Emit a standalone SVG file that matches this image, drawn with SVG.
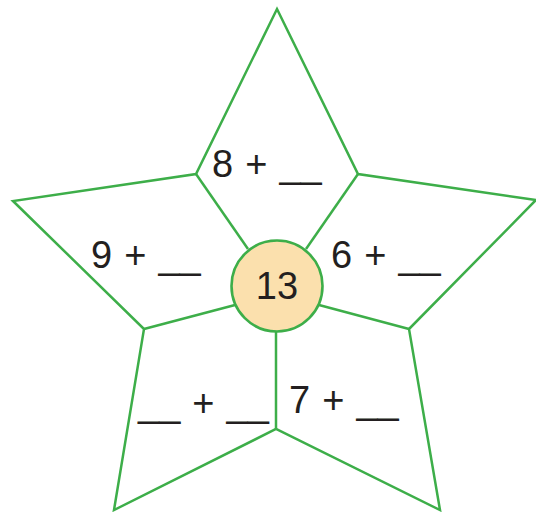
<svg xmlns="http://www.w3.org/2000/svg" width="536" height="512" viewBox="0 0 536 512">
  <style>
    .edge { fill: none; stroke: #3dae49; stroke-width: 2.5; stroke-linejoin: miter; }
    .lbl { font-family: "Liberation Sans", Arial, sans-serif; font-size: 38px; fill: #231f20; word-spacing: 1.5px; }
    .hub { fill: #fbe0ad; stroke: #3dae49; stroke-width: 2.6; }
  </style>
  <rect width="536" height="512" fill="#ffffff"/>
  <g id="star">
    <polygon class="edge" points="277,9 358,174 536,200 409,329 440,510 276,429 114,510 144,329 13,201 196,174"/>
  </g>
  <g id="connectors">
    <line class="edge" x1="196" y1="174" x2="248" y2="249"/>
    <line class="edge" x1="358" y1="174" x2="306" y2="249"/>
    <line class="edge" x1="409" y1="329" x2="319" y2="305"/>
    <line class="edge" x1="144" y1="329" x2="235" y2="305"/>
    <line class="edge" x1="276" y1="429" x2="276" y2="331"/>
  </g>
  <g id="center">
    <circle class="hub" cx="277" cy="286" r="45.5"/>
    <text class="lbl" x="277" y="299" text-anchor="middle">13</text>
  </g>
  <g id="top-petal">
    <text class="lbl" x="212" y="177">8 + __</text>
  </g>
  <g id="left-petal">
    <text class="lbl" x="91" y="268">9 + __</text>
  </g>
  <g id="right-petal">
    <text class="lbl" x="331" y="268">6 + __</text>
  </g>
  <g id="bottom-left-petal">
    <text class="lbl" x="138" y="416">__ + __</text>
  </g>
  <g id="bottom-right-petal">
    <text class="lbl" x="289" y="413">7 + __</text>
  </g>
</svg>
